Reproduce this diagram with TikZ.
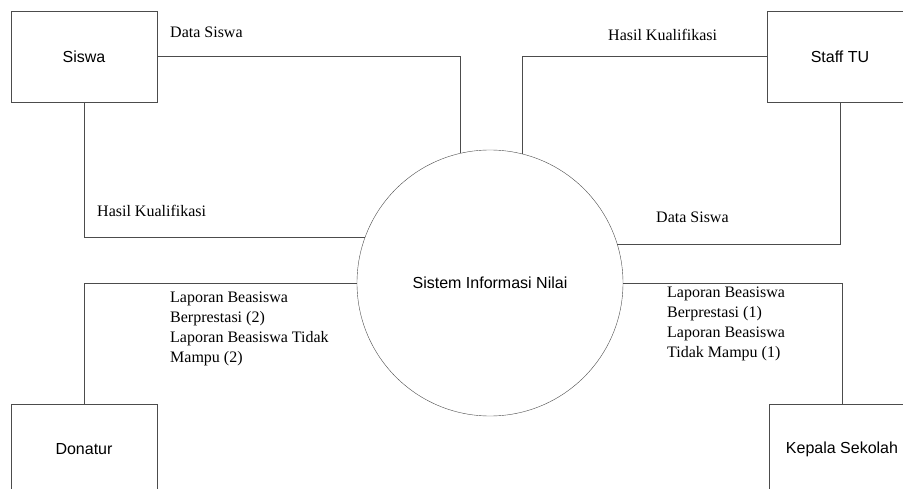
\documentclass[tikz,border=0pt]{standalone}
\usepackage{fontspec}
\setmainfont{Liberation Serif}
\setsansfont{Liberation Sans}
\usetikzlibrary{positioning}

\tikzset{
  entity/.style={draw=black!70, semithick, minimum width=146pt, minimum height=91pt,
    inner sep=0pt, font=\sffamily\fontsize{16}{19}\selectfont},
  proses/.style={draw=black!70, circle, minimum size=266pt, inner sep=0pt,
    font=\sffamily\fontsize{16}{19}\selectfont},
  flow/.style={draw=black!70, semithick},
  flowlabel/.style={inner sep=0pt, anchor=west, align=left,
    font=\fontsize{16}{20}\selectfont}
}

\begin{document}
\begin{tikzpicture}[x=1pt, y=-1pt]
                \useasboundingbox (0,0) rectangle (903,489);
                \clip (0,0) rectangle (903,489);

                % Process
                \node[proses] (sistem) at (490,283) {Sistem Informasi Nilai};

                % External entities
                \node[entity] (siswa) at (84,56.5) {Siswa};
                \node[entity] (staff) at (840,56.5) {Staff TU};
                \node[entity] (donatur) at (84,449.5) {Donatur};
                \node[entity] (kepala) at (842,449.5) {Kepala Sekolah};

                % Data flows
                \draw[flow] (siswa.east) -| (sistem.103);
                \draw[flow] (siswa.south) |- (sistem.160);
                \draw[flow] (staff.west) -| (sistem.76);
                \draw[flow] (staff.south) |- (sistem.17);
                \draw[flow] (donatur.north) |- (sistem.west);
                \draw[flow] (kepala.north) |- (sistem.east);

                % Flow labels
                \node[flowlabel] (lbl-data1) at (170,32) {Data Siswa};
                \node[flowlabel] (lbl-hasil1) at (97,211) {Hasil Kualifikasi};
                \node[flowlabel] (lbl-hasil2) at (608,35) {Hasil Kualifikasi};
                \node[flowlabel] (lbl-data2) at (656,217) {Data Siswa};
                \node[flowlabel] (lbl-donatur) at (170,329)
                  {Laporan Beasiswa\\Berprestasi (2)\\Laporan Beasiswa Tidak\\Mampu (2)};
                \node[flowlabel] (lbl-kepala) at (667,324)
                  {Laporan Beasiswa\\Berprestasi (1)\\Laporan Beasiswa\\Tidak Mampu (1)};

\end{tikzpicture}
\end{document}
